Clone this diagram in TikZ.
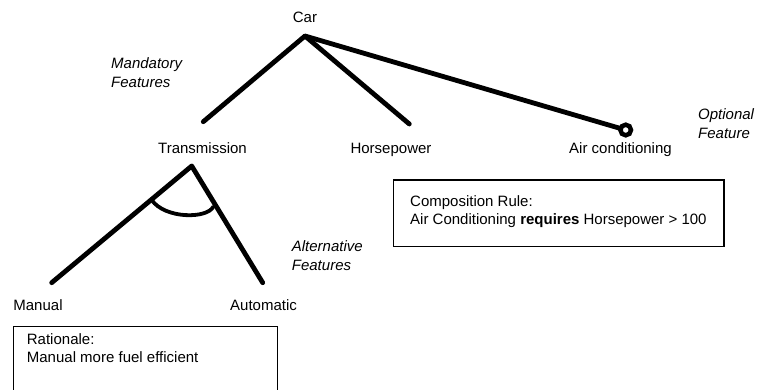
\documentclass[tikz,border=0pt]{standalone}
\usepackage{fontspec}
\setmainfont{Liberation Sans}
\usetikzlibrary{calc}
\begin{document}
\begin{tikzpicture}[x=1pt,y=-1pt,
  lbl/.style={anchor=base,inner sep=0pt,font=\fontsize{15}{18}\selectfont},
  note/.style={anchor=base west,inner sep=0pt,font=\fontsize{15}{18}\selectfont\itshape},
  boxtext/.style={anchor=base west,inner sep=0pt,font=\fontsize{15}{18}\selectfont},
  branch/.style={line width=4.8pt,line cap=round,line join=round},
  rulebox/.style={draw,line width=1.3pt}]
\useasboundingbox (0,0) rectangle (757,390);
\clip (0,0) rectangle (757,390);

% feature names
\node[lbl] (car)   at (305,22.7) {Car};
\node[lbl] (trans) at (202.5,154) {Transmission};
\node[lbl] (hp)    at (391,154) {Horsepower};
\node[lbl] (ac)    at (620.5,154) {Air conditioning};
\node[lbl] (man)   at (38,310) {Manual};
\node[lbl] (auto)  at (263.5,310) {Automatic};

% annotations
\node[note] (mand1) at (111,69) {Mandatory};
\node[note] (mand2) at (111,87.3) {Features};
\node[note] (opt1)  at (698,119.5) {Optional};
\node[note] (opt2)  at (698,138.3) {Feature};
\node[note] (alt1)  at (291.7,251.7) {Alternative};
\node[note] (alt2)  at (291.7,270) {Features};

% branch ends
\coordinate (carTip)   at (305,36);
\coordinate (transEnd) at (203.3,121.7);
\coordinate (hpEnd)    at (409.3,124);
\coordinate (acRing)   at (625.7,130);
\coordinate (transTip) at (191.7,166);
\coordinate (manEnd)   at (51.7,282.7);
\coordinate (autoEnd)  at (262.7,282.7);

% mandatory and optional branches
\draw[branch] (transEnd) -- (carTip) -- (hpEnd);
\draw[branch] (carTip) -- ($(acRing)!5.3pt!(carTip)$);
\draw[line width=4.5pt] (acRing) circle (5.3);

% alternative group
\draw[branch] (manEnd) -- (transTip) -- (autoEnd);
\coordinate (arcL) at (151.7,200);
\coordinate (arcR) at (213.3,206.7);
\draw[line width=3.8pt,line cap=round] (arcL) .. controls (165,219) and (207,219) .. (arcR);

% rule boxes
\node[rulebox,minimum width=330.6pt,minimum height=66.7pt,anchor=north west,inner sep=0pt] (comp) at (392.7,179.3) {};
\node[boxtext] (comp1) at (410,206) {Composition Rule:};
\node[boxtext] (comp2) at (410,224.3) {Air Conditioning \textbf{requires} Horsepower > 100};

\node[rulebox,minimum width=264pt,minimum height=80pt,anchor=north west,inner sep=0pt] (rat) at (12.7,326) {};
\node[boxtext] (rat1) at (26.7,344.3) {Rationale:};
\node[boxtext] (rat2) at (26.7,362.3) {Manual more fuel efficient};
\end{tikzpicture}
\end{document}
